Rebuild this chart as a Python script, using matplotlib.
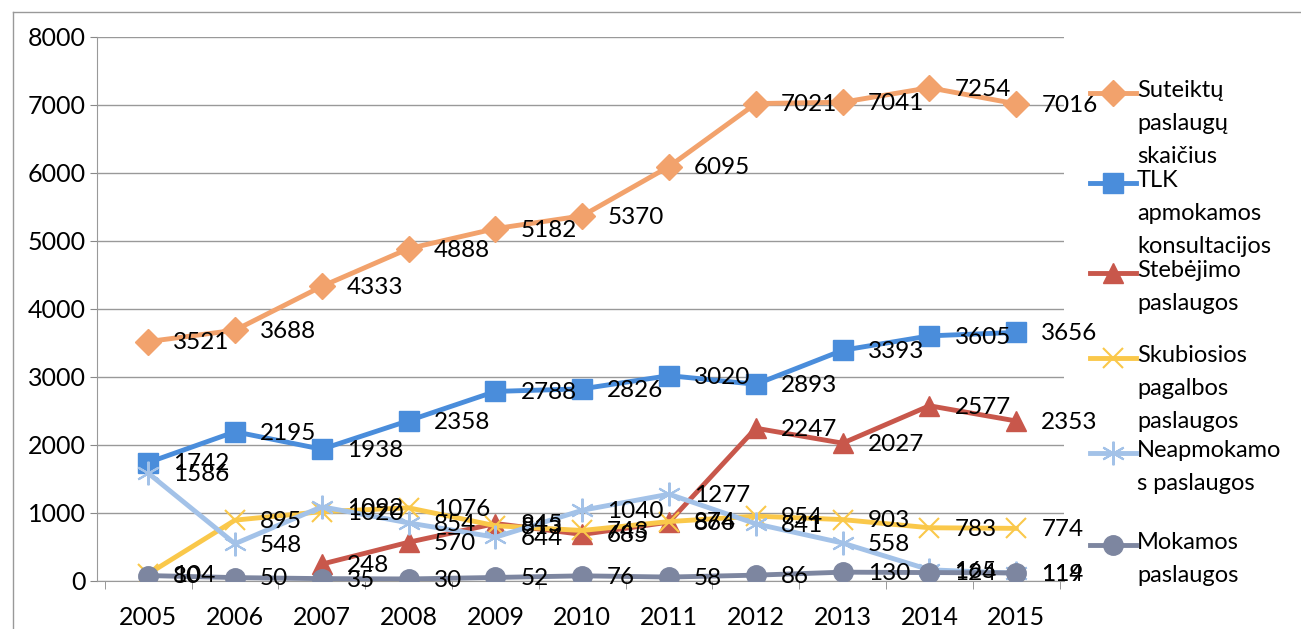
import numpy as np
import matplotlib
matplotlib.use("Agg")
import matplotlib.pyplot as plt
from matplotlib.lines import Line2D

plt.rcParams['font.family'] = ['Lato', 'DejaVu Sans']

# data
years = ["2005", "2006", "2007", "2008", "2009", "2010", "2011", "2012", "2013", "2014", "2015"]
suteiktu = [3521, 3688, 4333, 4888, 5182, 5370, 6095, 7021, 7041, 7254, 7016]
tlk = [1742, 2195, 1938, 2358, 2788, 2826, 3020, 2893, 3393, 3605, 3656]
stebejimo = [None, None, 248, 570, 845, 685, 866, 2247, 2027, 2577, 2353]
skubiosios = [104, 895, 1020, 1076, 813, 743, 874, 954, 903, 783, 774]
neapmokamos = [1586, 548, 1092, 854, 644, 1040, 1277, 841, 558, 165, 114]
mokamos = [80, 50, 35, 30, 52, 76, 58, 86, 130, 124, 119]

labels = ["Suteiktų\npaslaugų\nskaičius",
          "TLK\napmokamos\nkonsultacijos",
          "Stebėjimo\npaslaugos",
          "Skubiosios\npagalbos\npaslaugos",
          "Neapmokamo\ns paslaugos",
          "Mokamos\npaslaugos"]
series = [suteiktu, tlk, stebejimo, skubiosios, neapmokamos, mokamos]
colors = ["#F2A26C", "#4A8DDB", "#C8574B", "#FAC84A", "#A3C2E8", "#7D86A0"]
asterisk = (6, 2, 0)
markers = ["D", "s", "^", "x", asterisk, "o"]
msizes = [13, 15, 15, 15, 17, 14]
legend_y = [93, 183, 273, 358, 453, 545]  # pixel rows of legend handles

fig = plt.figure(figsize=(13.01, 6.29), dpi=100)
ax = fig.add_axes([97 / 1301, 1 - 581 / 629, (1064 - 97) / 1301, (581 - 37) / 629])

def is_line_marker(mk):
    return mk == "x" or mk == asterisk

x = np.arange(len(years))
for vals, col, mk, ms in zip(series, colors, markers, msizes):
    xs = [i for i, v in zip(x, vals) if v is not None]
    ys = [v for v in vals if v is not None]
    if is_line_marker(mk):
        ax.plot(xs, ys, color=col, lw=3.5, marker=mk, ms=ms, mew=1.5, zorder=3)
    else:
        ax.plot(xs, ys, color=col, lw=3.5, marker=mk, ms=ms, mec=col, zorder=3)
    for xi, yi in zip(xs, ys):
        ax.annotate(str(yi), (xi, yi), xytext=(18, -1), textcoords="offset points",
                    ha="left", va="center", fontsize=17.5, color="black", zorder=5)

ax.set_xlim(-0.59, 10.55)
ax.set_ylim(0, 8000)
ax.set_yticks(range(0, 8001, 1000))
ax.set_xticks(x)
ax.set_xticklabels(years)
ax.set_xticks(np.arange(-0.5, 10.6, 1), minor=True)
ax.tick_params(axis="x", which="major", length=0, pad=18, labelsize=18)
ax.tick_params(axis="x", which="minor", length=6, color="#888888")
ax.tick_params(axis="y", length=5, color="#888888", labelsize=18, pad=3)
ax.grid(axis="y", color="#999999", lw=1)
for s in ["top", "right"]:
    ax.spines[s].set_visible(False)
ax.spines["left"].set_color("#999999")
ax.spines["bottom"].set_color("#999999")

# legend drawn at right
W, H = 1301, 629
for lab, col, mk, ms, yp in zip(labels, colors, markers, msizes, legend_y):
    fy = 1 - yp / H
    fig.add_artist(Line2D([1090 / W, 1136 / W], [fy, fy], transform=fig.transFigure, color=col, lw=3.5))
    fig.add_artist(Line2D([1113 / W], [fy], transform=fig.transFigure, color=col, marker=mk,
                          ms=ms, mew=1.5 if is_line_marker(mk) else 1, mec=col))
    fig.text(1137 / W, fy + 13 / H, lab, ha="left", va="top", fontsize=17, linespacing=1.7)

# outer chart frame
fig.add_artist(Line2D([13 / W, 13 / W], [0, 1 - 12 / H], transform=fig.transFigure, color="#999999", lw=1))
fig.add_artist(Line2D([13 / W, 1], [1 - 12 / H, 1 - 12 / H], transform=fig.transFigure, color="#999999", lw=1))

fig.savefig("out.png", dpi=100)
